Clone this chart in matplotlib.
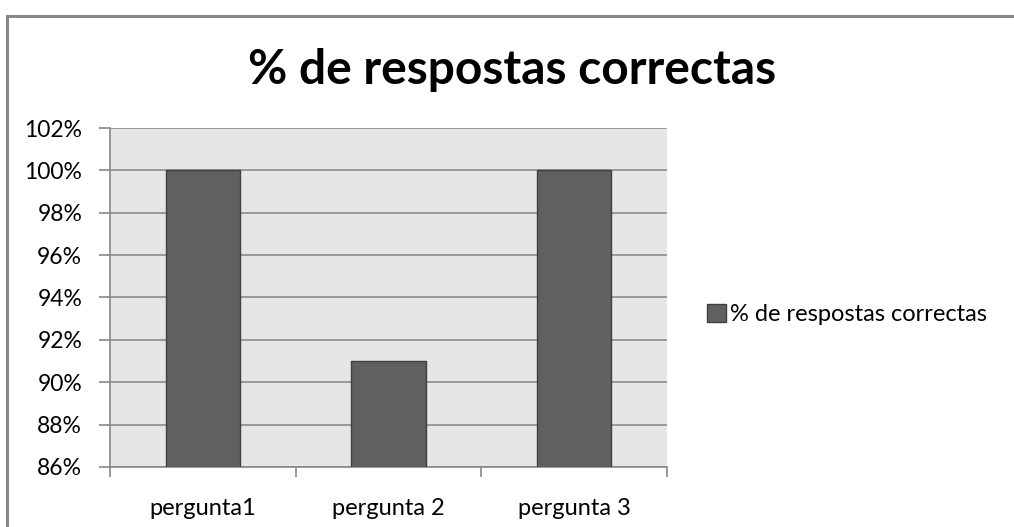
import matplotlib.pyplot as plt
from matplotlib.patches import Rectangle
from matplotlib.ticker import FuncFormatter

plt.rcParams['font.family'] = ['Lato', 'DejaVu Sans']

categories = ["pergunta1", "pergunta 2", "pergunta 3"]
values = [100, 91, 100]
series_name = "% de respostas correctas"
title = "% de respostas correctas"

fig = plt.figure(figsize=(10.14, 5.27), dpi=100)
ax = fig.add_axes([0.1085, 0.1139, 0.5495, 0.6432])

# outer chart border (only top and left visible in the reference)
fig.patches.append(Rectangle((7 / 1014, -0.2), 1.1, 1.2 - 16 / 527,
                             transform=fig.transFigure, fill=False,
                             edgecolor="#888888", linewidth=2.2))

ax.set_facecolor("#e6e6e6")
x = range(len(categories))
ax.bar(x, values, width=0.4, color="#606060", edgecolor="#404040",
       linewidth=1.0, label=series_name, zorder=3)

ax.set_ylim(86, 102)
ax.set_yticks(range(86, 103, 2))
ax.yaxis.set_major_formatter(FuncFormatter(lambda v, p: f"{v:.0f}%"))
ax.set_xlim(-0.5, len(categories) - 0.5)
ax.set_xticks([i - 0.5 for i in range(len(categories) + 1)], minor=False)
ax.set_xticklabels([])
ax.set_xticks(list(x), minor=True)
ax.set_xticklabels(categories, minor=True)
ax.tick_params(axis="x", which="minor", length=0, pad=22, labelsize=17)
ax.tick_params(axis="x", which="major", length=7, color="#888888", width=1.2)
ax.tick_params(axis="y", length=8, color="#888888", width=1.2, labelsize=16.5, pad=12)

ax.grid(axis="y", color="#8c8c8c", linewidth=1.2, zorder=1)
for side in ["top", "right"]:
    ax.spines[side].set_visible(False)
for side in ["left", "bottom"]:
    ax.spines[side].set_color("#888888")
    ax.spines[side].set_linewidth(1.2)

fig.text(0.5045, 0.867, title, ha="center", va="center", fontsize=34.5,
         fontweight="bold")

leg = fig.legend(loc="center left", bbox_to_anchor=(0.676, 0.403), frameon=False,
                 fontsize=17, handlelength=0.8, handleheight=0.8,
                 handletextpad=0.2)

fig.savefig("out.png", dpi=100)
